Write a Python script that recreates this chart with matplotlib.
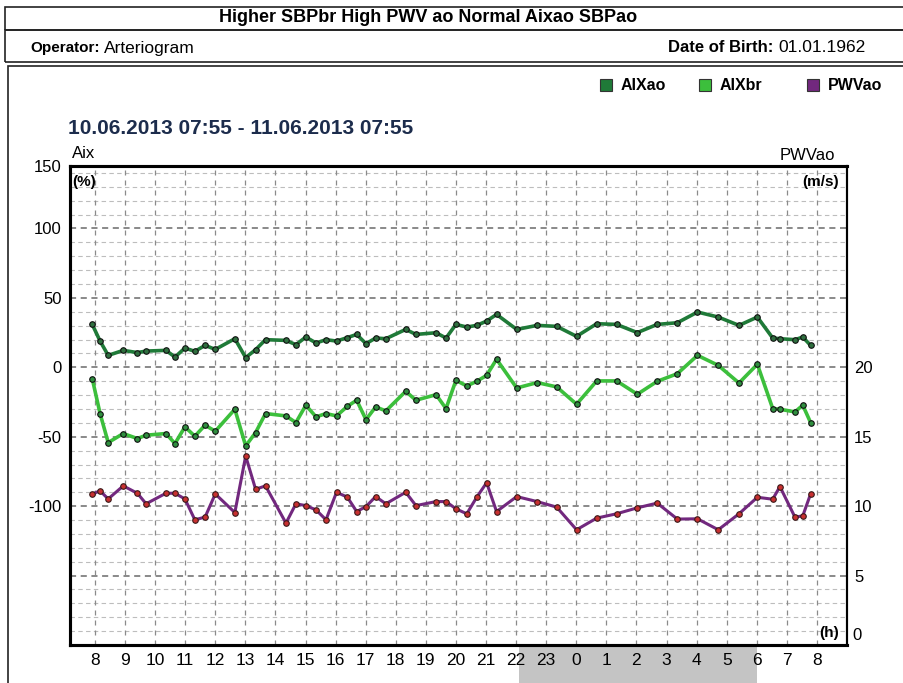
import matplotlib
matplotlib.use("Agg")
import matplotlib.pyplot as plt
from matplotlib.patches import Rectangle

plt.rcParams['font.family'] = ['Liberation Sans', 'DejaVu Sans']

# measurement times, hours after midnight of day 1 (day 2 = 24+)
hours = [7.91, 8.17, 8.44, 8.94, 9.41, 9.70, 10.36, 10.66, 10.99, 11.32, 11.66, 12.0,
         12.65, 13.01, 13.34, 13.67, 14.35, 14.68, 15.01, 15.35, 15.68, 16.03, 16.39, 16.70,
         17.01, 17.33, 17.67, 18.33, 18.67, 19.34, 19.67, 20.0, 20.36, 20.69, 21.02, 21.35,
         22.02, 22.70, 23.35, 24.01, 24.68, 25.34, 26.03, 26.69, 27.36, 28.03, 28.72, 29.41,
         30.02, 30.53, 30.77, 31.27, 31.53, 31.79]

aix_ao = [30.9, 18.9, 8.6, 12.2, 10.6, 11.7, 12.2, 7.4, 13.9, 11.5, 15.8, 12.9,
          20.6, 7.0, 12.7, 19.9, 19.4, 16.3, 21.8, 17.5, 19.9, 18.9, 21.4, 23.7,
          17.0, 21.1, 20.6, 27.3, 23.7, 24.9, 21.1, 30.9, 29.0, 30.2, 33.3, 38.1,
          27.3, 30.2, 29.5, 22.3, 31.4, 30.9, 25.0, 30.9, 32.1, 39.8, 36.2, 30.2,
          36.2, 21.1, 20.6, 19.9, 21.8, 15.8]

aix_br = [-8.2, -33.3, -54.2, -47.7, -51.3, -48.9, -47.7, -54.9, -42.9, -49.6, -41.7, -46.0,
          -30.2, -56.6, -47.0, -33.3, -35.0, -39.8, -27.3, -35.7, -33.3, -35.0, -28.1, -23.7,
          -37.7, -28.5, -31.4, -17.3, -23.7, -19.7, -29.7, -9.4, -13.4, -10.1, -5.8, 5.8,
          -14.9, -11.0, -14.1, -26.6, -9.8, -9.8, -19.4, -10.1, -4.6, 8.6, 1.4, -11.3,
          2.2, -29.7, -30.2, -32.1, -27.3, -39.8]

pwv_ao = [10.88, 11.10, 10.52, 11.46, 10.93, 10.17, 10.93, 10.93, 10.52, 9.02, 9.21, 10.88,
          9.54, 13.61, 11.22, 11.46, 8.78, 10.17, 10.04, 9.73, 9.02, 11.0, 10.65, 9.61,
          9.97, 10.69, 10.17, 11.0, 10.04, 10.33, 10.33, 9.81, 9.45, 10.64, 11.69, 9.61,
          10.69, 10.33, 9.93, 8.30, 9.14, 9.45, 9.88, 10.22, 9.07, 9.09, 8.30, 9.45,
          10.64, 10.50, 11.41, 9.21, 9.30, 10.88]

hour_ticks = list(range(8, 33))
hour_labels = [str(h % 24) for h in hour_ticks]
left_ticks = [-100, -50, 0, 50, 100]
right_ticks = [5, 10, 15, 20]

c_ao = '#1f7a38'
c_br = '#3cbf3c'
c_pwv = '#72287e'

W, H = 904, 683
fig = plt.figure(figsize=(W / 100, H / 100), dpi=100)


def fx(px):
    return px / W


def fy(py):
    return 1 - py / H


# header boxes
for x0, y0, x1, y1 in [(5, 7, 910, 30), (5, 30, 910, 62), (8, 66, 910, 690)]:
    fig.patches.append(Rectangle((fx(x0), fy(y1)), fx(x1 - x0), (y1 - y0) / H,
                                 transform=fig.transFigure, fill=False,
                                 edgecolor='#222222', lw=1.2))
fig.text(fx(428), fy(18), 'Higher SBPbr High PWV ao Normal Aixao SBPao',
         ha='center', va='center', fontsize=13, fontweight='bold')
fig.text(fx(30), fy(48), 'Operator:', ha='left', va='center', fontsize=11, fontweight='bold')
fig.text(fx(104), fy(48), 'Arteriogram', ha='left', va='center', fontsize=12.5)
fig.text(fx(773), fy(48), 'Date of Birth:', ha='right', va='center', fontsize=12, fontweight='bold')
fig.text(fx(778), fy(48), '01.01.1962', ha='left', va='center', fontsize=12.5)

# legend
for sx, label, col in [(606, 'AIXao', c_ao), (705, 'AIXbr', c_br), (813, 'PWVao', c_pwv)]:
    fig.patches.append(Rectangle((fx(sx - 6), fy(91)), fx(12), 12 / H,
                                 transform=fig.transFigure, facecolor=col,
                                 edgecolor='#333333', lw=0.8))
    fig.text(fx(sx + 15), fy(85), label, ha='left', va='center', fontsize=11.5, fontweight='bold')

fig.text(fx(68), fy(129), '10.06.2013 07:55 - 11.06.2013 07:55', ha='left', va='center',
         fontsize=15, fontweight='bold', color='#1c2c4c')

ax = fig.add_axes([fx(70), fy(645), fx(847 - 70), (645 - 166) / H])
ax2 = ax.twinx()

ax.set_xlim(7.17, 33.0)
ax.set_ylim(-200, 145)
ax2.set_ylim(0, 34.5)

# grid
for v in range(-190, 145, 10):
    major = v % 50 == 0
    ax.axhline(v, color='#6a6a6a' if major else '#bdbdbd', lw=1.1 if major else 0.8,
               ls=(0, (4, 3)), zorder=0)
for h in hour_ticks:
    ax.axvline(h, color='#8a8a8a', lw=0.9, ls=(0, (4, 4)), zorder=0)

ax.plot(hours, aix_ao, color=c_ao, lw=2.6, marker='o', ms=4, mfc='#2f6f3f',
        mec='#111111', mew=0.8, zorder=3)
ax.plot(hours, aix_br, color=c_br, lw=2.6, marker='o', ms=4, mfc='#2f8f3f',
        mec='#111111', mew=0.8, zorder=3)
ax2.plot(hours, pwv_ao, color=c_pwv, lw=2.2, marker='o', ms=4, mfc='#c83030',
         mec='#3a1a1a', mew=0.8, zorder=3)

ax.set_xticks(hour_ticks)
ax.set_xticklabels(hour_labels, fontsize=12.5)
ax.set_yticks(left_ticks)
ax.set_yticklabels([str(v) for v in left_ticks], fontsize=12)
ax2.set_yticks(right_ticks)
ax2.set_yticklabels([str(v) for v in right_ticks], fontsize=12)
ax.tick_params(length=0, pad=6)
ax2.tick_params(length=0, pad=5)
ax.tick_params(axis='x', pad=6)

for s in ['left', 'bottom', 'top']:
    ax.spines[s].set_linewidth(2.2)
ax.spines['right'].set_linewidth(1.5)
ax2.spines['left'].set_linewidth(2.2)
ax2.spines['top'].set_linewidth(2.2)
ax2.spines['bottom'].set_linewidth(2.2)
ax2.spines['right'].set_linewidth(1.5)

# edge labels
fig.text(fx(62), fy(168), '150', ha='right', va='center', fontsize=12)
fig.text(fx(852), fy(636), '0', ha='left', va='center', fontsize=12)
fig.text(fx(72), fy(153), 'Aix', ha='left', va='center', fontsize=12)
fig.text(fx(72), fy(182), '(%)', ha='left', va='center', fontsize=11, fontweight='bold')
fig.text(fx(835), fy(155), 'PWVao', ha='right', va='center', fontsize=12)
fig.text(fx(839), fy(182), '(m/s)', ha='right', va='center', fontsize=11, fontweight='bold')
fig.text(fx(839), fy(633), '(h)', ha='right', va='center', fontsize=11, fontweight='bold')

# night band behind hour labels
fig.patches.append(Rectangle((fx(519), 0), fx(757 - 519), 38 / H,
                             transform=fig.transFigure, facecolor='#c4c4c4',
                             edgecolor='none', zorder=-1))

fig.savefig('out.png', dpi=100)
